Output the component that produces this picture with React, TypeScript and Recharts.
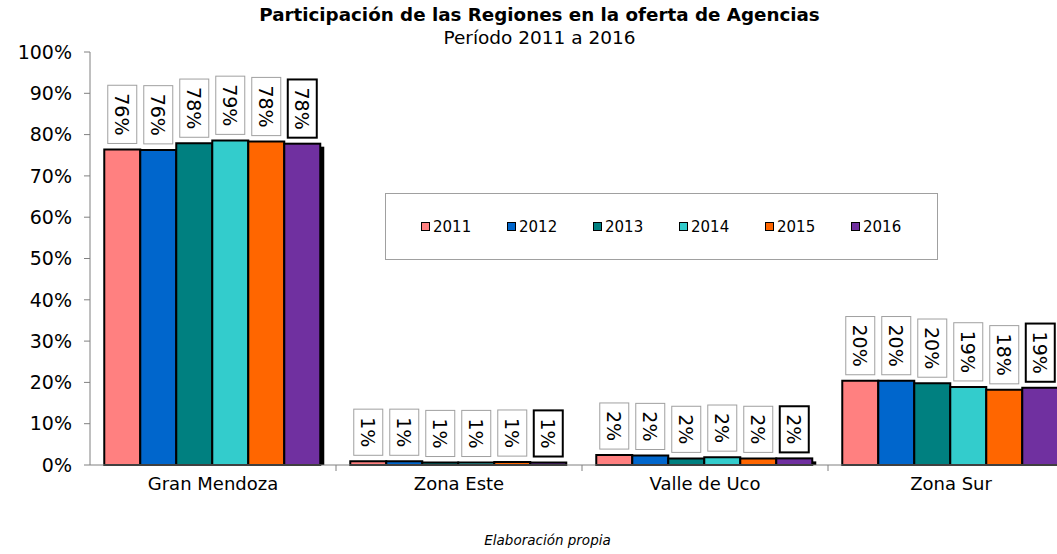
import React from 'react';
import { Bar, BarChart, LabelList, Legend, XAxis, YAxis } from 'recharts';

const regions = ['Gran Mendoza', 'Zona Este', 'Valle de Uco', 'Zona Sur'];
const years = ['2011', '2012', '2013', '2014', '2015', '2016'];
const colors = ['#FF8080', '#0066CC', '#008080', '#33CCCC', '#FF6600', '#7030A0'];

// participation (%) per region, one array per year
const v2011 = [76.4, 0.9, 2.4, 20.4];
const v2012 = [76.3, 0.9, 2.3, 20.4];
const v2013 = [77.9, 0.6, 1.6, 19.8];
const v2014 = [78.6, 0.6, 1.9, 18.9];
const v2015 = [78.3, 0.7, 1.6, 18.2];
const v2016 = [77.8, 0.6, 1.6, 18.7];

const yTicks = [0, 10, 20, 30, 40, 50, 60, 70, 80, 90, 100];

const series = [v2011, v2012, v2013, v2014, v2015, v2016];
const data = regions.map((r, i) => {
  const row: any = { name: r };
  years.forEach((y, k) => {
    row[y] = series[k][i];
  });
  return row;
});

const FONT = 'Verdana, "DejaVu Sans", sans-serif';
const BAND = 246;

// rough text length of a label in DejaVu Sans at 19px
const textLen = (s: string) =>
  s.split('').reduce((a, c) => a + (c === '%' ? 0.95 : 0.636), 0) * 19;

const makeLabel = (last: boolean) => (props: any) => {
  const x = Number(props.x);
  const y = Number(props.y);
  const w = Number(props.width);
  const txt = Math.round(Number(props.value)) + '%';
  const h = textLen(txt) + 16;
  const cx = x + w / 2;
  const bottom = y - 6;
  return (
    <g>
      <rect
        x={cx - 14.5}
        y={bottom - h}
        width={29}
        height={h}
        fill="#fff"
        stroke={last ? '#000' : '#a0a0a0'}
        strokeWidth={last ? 2 : 1}
      />
      <text
        transform={`translate(${cx},${bottom - h / 2}) rotate(90)`}
        textAnchor="middle"
        dominantBaseline="central"
        fontSize={19}
        fontFamily={FONT}
        fill="#000"
      >
        {txt}
      </text>
    </g>
  );
};

// last series gets a drop shadow
const ShadowBar = (props: any) => {
  const { x, y, width, height, fill } = props;
  return (
    <g>
      <rect x={x + 4} y={y + 3} width={width} height={Math.max(height - 3, 0)} fill="#000" />
      <rect x={x} y={y} width={width} height={height} fill={fill} stroke="#000" strokeWidth={2} />
    </g>
  );
};

const CategoryTick = (props: any) => {
  const { x, y, payload } = props;
  return (
    <g>
      <line x1={x + BAND / 2} y1={y - 8} x2={x + BAND / 2} y2={y - 2} stroke="#808080" />
      <text x={x} y={y + 17} textAnchor="middle" fontSize={18} fontFamily={FONT} fill="#000">
        {payload.value}
      </text>
    </g>
  );
};

const renderLegend = () => (
  <div
    style={{
      width: 553,
      height: 67,
      boxSizing: 'border-box',
      border: '1px solid #a0a0a0',
      background: '#fff',
      display: 'flex',
      alignItems: 'center',
      paddingLeft: 35,
      fontFamily: FONT,
      fontSize: 15,
    }}
  >
    {years.map((y, i) => (
      <div key={y} style={{ display: 'flex', alignItems: 'center', width: 87 }}>
        <span
          style={{
            display: 'inline-block',
            width: 7,
            height: 7,
            background: colors[i],
            border: '1.5px solid #000',
            marginRight: 3,
          }}
        />
        <span>{y}</span>
      </div>
    ))}
  </div>
);

export default function App() {
  return (
    <div
      style={{
        position: 'fixed',
        left: 0,
        top: 0,
        width: 1057,
        height: 554,
        overflow: 'hidden',
        background: '#fff',
      }}
    >
      <div
        style={{
          position: 'absolute',
          left: 0,
          top: 4,
          width: 1079,
          textAlign: 'center',
          fontFamily: FONT,
          fontWeight: 'bold',
          fontSize: 18.3,
        }}
      >
        Participación de las Regiones en la oferta de Agencias
      </div>
      <div
        style={{
          position: 'absolute',
          left: 0,
          top: 27,
          width: 1079,
          textAlign: 'center',
          fontFamily: FONT,
          fontSize: 18.5,
        }}
      >
        Período 2011 a 2016
      </div>
      <BarChart
        width={1080}
        height={554}
        data={data}
        margin={{ top: 52, right: 6, left: 0, bottom: 0 }}
        barCategoryGap="5.8%"
        barGap={0}
      >
        <XAxis
          dataKey="name"
          height={89}
          tick={<CategoryTick />}
          tickLine={false}
          axisLine={{ stroke: '#808080' }}
          interval={0}
        />
        <YAxis
          width={90}
          domain={[0, 100]}
          ticks={yTicks}
          tickFormatter={(v: number) => v + '%'}
          tick={{ fontSize: 19, fontFamily: FONT, fill: '#000' }}
          tickMargin={12}
          axisLine={{ stroke: '#808080' }}
          tickLine={{ stroke: '#808080' }}
          interval={0}
        />
        <Legend
          layout="horizontal"
          verticalAlign="middle"
          align="center"
          content={renderLegend}
          wrapperStyle={{ position: 'absolute', left: 385, top: 193, width: 553, height: 67 }}
        />
        {years.map((y, i) => (
          <Bar
            key={y}
            dataKey={y}
            fill={colors[i]}
            stroke="#000"
            strokeWidth={2}
            isAnimationActive={false}
            shape={i === years.length - 1 ? <ShadowBar /> : undefined}
          >
            <LabelList dataKey={y} content={makeLabel(i === years.length - 1)} />
          </Bar>
        ))}
      </BarChart>
      <div
        style={{
          position: 'absolute',
          left: 0,
          top: 532,
          width: 1095,
          textAlign: 'center',
          fontFamily: FONT,
          fontStyle: 'italic',
          fontSize: 13.5,
        }}
      >
        Elaboración propia
      </div>
    </div>
  );
}
